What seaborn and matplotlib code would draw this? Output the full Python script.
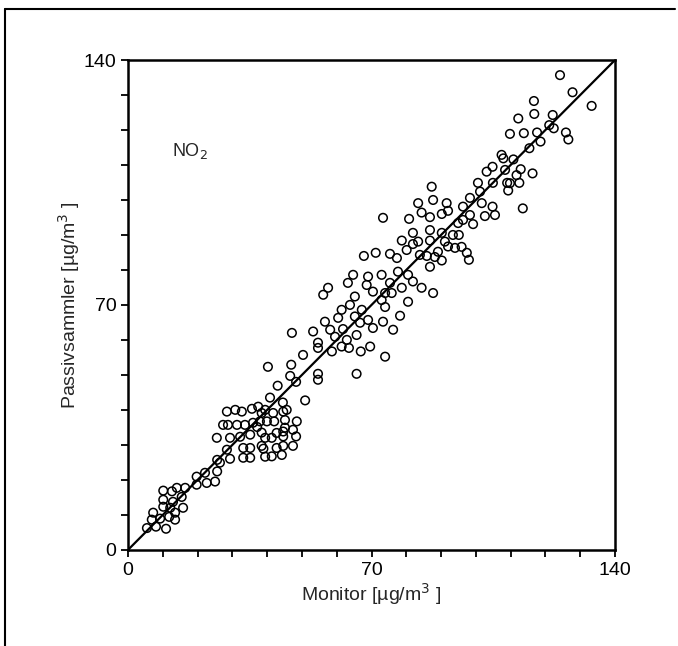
import numpy as np
import pandas as pd
import matplotlib
matplotlib.use("Agg")
import matplotlib.pyplot as plt
from matplotlib.lines import Line2D
import seaborn as sns

# NO2: passive sampler vs. monitor
monitor = [
    5.4, 8.0, 10.9, 6.8, 7.2, 9.2, 10.1, 10.1, 10.1, 12.6, 14.0, 16.4, 12.9, 12.1, 13.5,
    13.5, 15.8, 15.4, 11.8, 19.7, 19.7, 22.1, 22.6, 25.0, 25.6, 25.6, 26.4, 29.3, 28.4,
    25.5, 29.3, 32.2, 33.1, 33.1, 35.1, 35.1, 35.1, 27.3, 28.7, 31.3, 33.6, 35.9, 37.1,
    40.2, 46.9, 46.6, 48.3, 54.6, 54.6, 43.0, 50.9, 40.8, 44.5, 44.6, 45.6, 28.4, 30.8,
    32.7, 35.6, 37.4, 39.4, 38.4, 41.7, 37.9, 39.9, 42.0, 45.1, 48.5, 45.1, 47.4, 44.6,
    42.7, 38.4, 39.4, 41.3, 44.6, 48.3, 38.4, 38.9, 42.7, 44.6, 47.4, 39.4, 41.3, 44.2,
    64.7, 69.0, 72.9, 77.6, 80.5, 81.9, 75.3, 78.7, 68.6, 63.2, 57.5, 56.1, 65.2, 70.4,
    73.9, 75.8, 72.9, 80.5, 73.9, 63.8, 61.4, 67.2, 65.2, 60.4, 69.0, 73.3, 78.2, 56.6,
    66.7, 70.4, 76.2, 61.8, 58.1, 53.2, 47.1, 65.7, 59.5, 62.9, 54.6, 54.6, 61.4, 63.5,
    69.6, 58.6, 66.9, 50.3, 73.9, 65.7,
    103.1, 100.6, 104.9, 101.2, 87.3, 87.7, 83.4, 91.6, 98.3, 101.7, 96.3, 84.4, 92.0,
    90.2, 73.3, 80.8, 86.8, 98.3, 102.6, 105.5, 96.3, 94.9, 99.2, 86.8, 81.9, 90.2, 93.4,
    95.1, 78.7, 83.4, 81.9, 86.8, 91.1, 92.0, 94.0, 95.9, 80.1, 71.2, 75.3, 77.3, 83.9,
    85.9, 89.1, 88.2, 90.2, 97.4, 98.0, 86.8, 84.4, 87.7, 67.8,
    124.2, 127.8, 133.3, 116.7, 116.8, 122.1, 112.2, 121.1, 122.4, 117.6, 113.8, 109.8,
    125.9, 126.6, 118.6, 115.4, 107.4, 107.9, 110.8, 104.8, 108.4, 112.9, 116.3, 111.7,
    109.0, 109.8, 112.5, 109.3, 104.8, 113.5,
]
passiv = [
    6.2, 6.6, 6.0, 8.6, 10.6, 8.9, 12.3, 14.3, 16.9, 16.7, 17.7, 17.7, 13.7, 12.0, 10.6,
    8.6, 12.0, 15.1, 9.4, 20.9, 18.6, 22.0, 19.1, 19.5, 22.4, 25.7, 24.9, 26.0, 28.6,
    32.0, 32.0, 32.3, 29.1, 26.3, 26.3, 29.1, 32.9, 35.7, 35.7, 35.7, 35.7, 36.3, 35.1,
    52.3, 52.9, 49.7, 48.0, 50.3, 48.6, 46.9, 42.7, 43.5, 42.1, 39.5, 40.0, 39.5, 40.0,
    39.5, 40.3, 40.9, 40.0, 39.1, 39.1, 36.7, 36.7, 36.7, 37.1, 36.7, 34.9, 34.3, 33.8,
    33.4, 33.5, 32.0, 32.0, 32.4, 32.4, 29.7, 28.9, 29.1, 29.7, 29.7, 26.6, 26.7, 27.1,
    78.6, 78.1, 78.6, 79.5, 78.6, 76.7, 76.3, 74.9, 75.7, 76.3, 74.9, 72.9, 72.4, 73.8,
    73.4, 73.4, 71.4, 70.9, 69.4, 70.0, 68.6, 68.6, 66.7, 66.3, 65.7, 65.2, 66.9, 65.2,
    64.9, 63.4, 62.9, 63.1, 62.9, 62.4, 62.0, 61.4, 60.9, 60.0, 59.2, 57.7, 58.1, 57.7,
    58.1, 56.7, 56.7, 55.7, 55.2, 50.3,
    108.1, 104.9, 104.9, 102.4, 103.8, 100.0, 99.1, 99.1, 100.6, 99.1, 98.1, 96.4, 96.9,
    96.0, 94.9, 94.6, 95.1, 95.7, 95.4, 95.7, 94.3, 93.4, 93.1, 91.4, 90.6, 90.6, 90.0,
    90.0, 88.4, 88.1, 87.4, 88.4, 88.1, 86.7, 86.3, 86.6, 85.7, 84.9, 84.6, 83.4, 84.3,
    84.0, 85.2, 83.7, 82.7, 84.9, 82.9, 80.9, 74.9, 73.4, 84.0,
    135.7, 130.8, 126.9, 128.3, 124.6, 124.3, 123.3, 121.4, 120.5, 119.3, 119.1, 118.9,
    119.3, 117.3, 116.7, 114.8, 112.9, 111.9, 111.6, 109.5, 108.6, 108.8, 107.6, 107.1,
    104.9, 104.8, 104.9, 102.7, 98.1, 97.6,
]
ticks = np.arange(0, 141, 10)
tick_labels = ["0", "", "", "", "", "", "", "70", "", "", "", "", "", "", "140"]

df = pd.DataFrame({"monitor": monitor, "passiv": passiv})

sns.set_style("ticks")
plt.rcParams["font.family"] = ["Liberation Sans", "DejaVu Sans"]

fig = plt.figure(figsize=(6.78, 6.46), dpi=100)
ax = fig.add_axes([0.189, 0.149, 0.718, 0.758])

# 1:1 line
ax.plot([0, 140], [0, 140], color="black", lw=1.6, zorder=1)

sns.scatterplot(data=df, x="monitor", y="passiv", ax=ax, marker="o", s=38,
                facecolors="none", edgecolor="black", linewidth=1.1, zorder=2)

ax.set_xlim(0, 140)
ax.set_ylim(0, 140)
ax.set_xticks(ticks)
ax.set_yticks(ticks)
ax.set_xticklabels(tick_labels)
ax.set_yticklabels(tick_labels)
ax.tick_params(direction="out", length=5, width=1.3, labelsize=14, colors="black")
for sp in ax.spines.values():
    sp.set_visible(True)
    sp.set_linewidth(1.8)
    sp.set_color("black")

ax.set_xlabel("Monitor [µg/m$^3$ ]", fontsize=14, labelpad=2)
ax.set_ylabel("Passivsammler [µg/m$^3$ ]", fontsize=14, labelpad=1)
ax.text(12.5, 114, "NO$_2$", fontsize=13, ha="left", va="center")

# frame of the scanned page
fig.add_artist(Line2D([0.008, 0.008], [0.0, 0.986], color="black", lw=1.5, transform=fig.transFigure))
fig.add_artist(Line2D([0.008, 0.995], [0.986, 0.986], color="black", lw=1.5, transform=fig.transFigure))

fig.savefig("out.png", dpi=100)
